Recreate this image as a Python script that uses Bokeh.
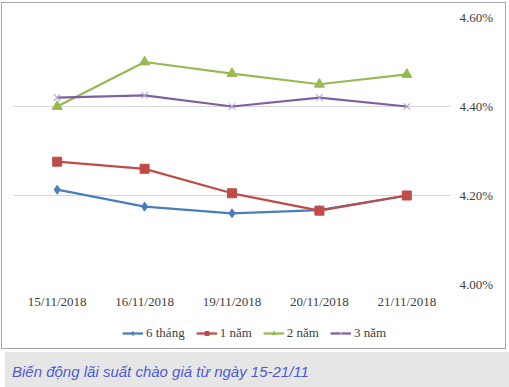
from bokeh.plotting import figure
from bokeh.models import (FactorRange, Range1d, LinearAxis, CategoricalAxis, FixedTicker, PrintfTickFormatter,
                          Legend, LegendItem, Div, ColumnDataSource)
from bokeh.layouts import column
from bokeh.embed import file_html
from bokeh.resources import INLINE

dates = ["15/11/2018", "16/11/2018", "19/11/2018", "20/11/2018", "21/11/2018"]
s_6m = [4.213, 4.175, 4.160, 4.167, 4.200]
s_1y = [4.276, 4.260, 4.205, 4.166, 4.200]
s_2y = [4.400, 4.500, 4.474, 4.450, 4.472]
s_3y = [4.420, 4.425, 4.400, 4.420, 4.400]
series_names = ["6 tháng", "1 năm", "2 năm", "3 năm"]
y_ticks = [4.0, 4.2, 4.4, 4.6]
caption = "Biến động lãi suất chào giá từ ngày 15-21/11"

colors = ["#4A7EBB", "#BE4B48", "#98B954", "#7D60A0"]
marker_colors = ["#4A7EBB", "#BE4B48", "#98B954", "#B4A8D8"]
markers = ["diamond", "square", "triangle", "x"]
sizes = [9, 9, 10, 9]
SERIF = "Liberation Serif"
TXT = "#404040"

all_series = [s_6m, s_1y, s_2y, s_3y]

# main chart
p = figure(width=503, height=309, x_range=FactorRange(*dates, range_padding=0),
           y_range=Range1d(4.0, 4.6), output_backend="svg", toolbar_location=None,
           min_border_left=11, min_border_right=55, min_border_top=14, min_border_bottom=28)
p.outline_line_color = None
p.xgrid.grid_line_color = None
p.ygrid.grid_line_color = "#d9d9d9"
p.ygrid.ticker = FixedTicker(ticks=y_ticks)
p.xaxis.visible = False
p.yaxis.visible = False

yax = LinearAxis(ticker=FixedTicker(ticks=y_ticks), formatter=PrintfTickFormatter(format="%.2f%%"))
yax.axis_line_color = None
yax.major_tick_line_color = None
yax.minor_tick_line_color = None
yax.major_label_standoff = 3
yax.major_label_text_font = SERIF
yax.major_label_text_font_size = "13px"
yax.major_label_text_color = TXT
p.add_layout(yax, "right")

xax = CategoricalAxis()
xax.axis_line_color = None
xax.major_tick_line_color = None
xax.minor_tick_line_color = None
xax.major_label_standoff = 3
xax.major_label_text_font = SERIF
xax.major_label_text_font_size = "13px"
xax.major_label_text_color = TXT
p.add_layout(xax, "below")

for vals, c, mc, m, sz in zip(all_series, colors, marker_colors, markers, sizes):
    src = ColumnDataSource(dict(x=dates, y=vals))
    p.line("x", "y", source=src, line_color=c, line_width=2.25)
    if m == "x":
        p.scatter("x", "y", source=src, marker=m, size=sz, line_color=mc, line_width=1.2)
    else:
        p.scatter("x", "y", source=src, marker=m, size=sz, fill_color=c, line_color=c)

# legend strip (same series drawn out of view; only the legend shows)
lg = figure(width=503, height=36, x_range=FactorRange(*dates, range_padding=0),
            y_range=Range1d(0, 1), output_backend="svg", toolbar_location=None,
            min_border=0)
lg.outline_line_color = None
lg.grid.visible = False
lg.axis.visible = False
items = []
for name, vals, c, mc, m, sz in zip(series_names, all_series, colors, marker_colors, markers, sizes):
    src = ColumnDataSource(dict(x=dates, y=vals))
    r1 = lg.line("x", "y", source=src, line_color=c, line_width=2.25)
    if m == "x":
        r2 = lg.scatter("x", "y", source=src, marker=m, size=7, line_color=mc, line_width=1.2)
    else:
        r2 = lg.scatter("x", "y", source=src, marker=m, size=7, fill_color=c, line_color=c)
    items.append(LegendItem(label=name, renderers=[r1, r2]))

legend = Legend(items=items, orientation="horizontal", location=(109, 7),
                label_text_font=SERIF, label_text_font_size="13px", label_text_color=TXT,
                glyph_width=21, glyph_height=10, spacing=11, label_standoff=3,
                border_line_color=None, background_fill_alpha=0, margin=0, padding=2)
lg.add_layout(legend, "center")

box = column(p, lg, styles={"border": "1px solid #a6a6a6", "margin-left": "1px", "margin-top": "2px"})

cap = Div(text=caption, width=509, height=35,
          styles={"background-color": "#e6e6e6", "color": "#4f5bd5",
                  "font-family": "Liberation Sans, Arial, sans-serif", "font-style": "italic",
                  "font-size": "15px", "padding-left": "7px", "padding-top": "9px",
                  "box-sizing": "border-box", "margin-top": "3px"})

layout = column(box, cap)
open("out.html", "w").write(file_html(layout, INLINE))
